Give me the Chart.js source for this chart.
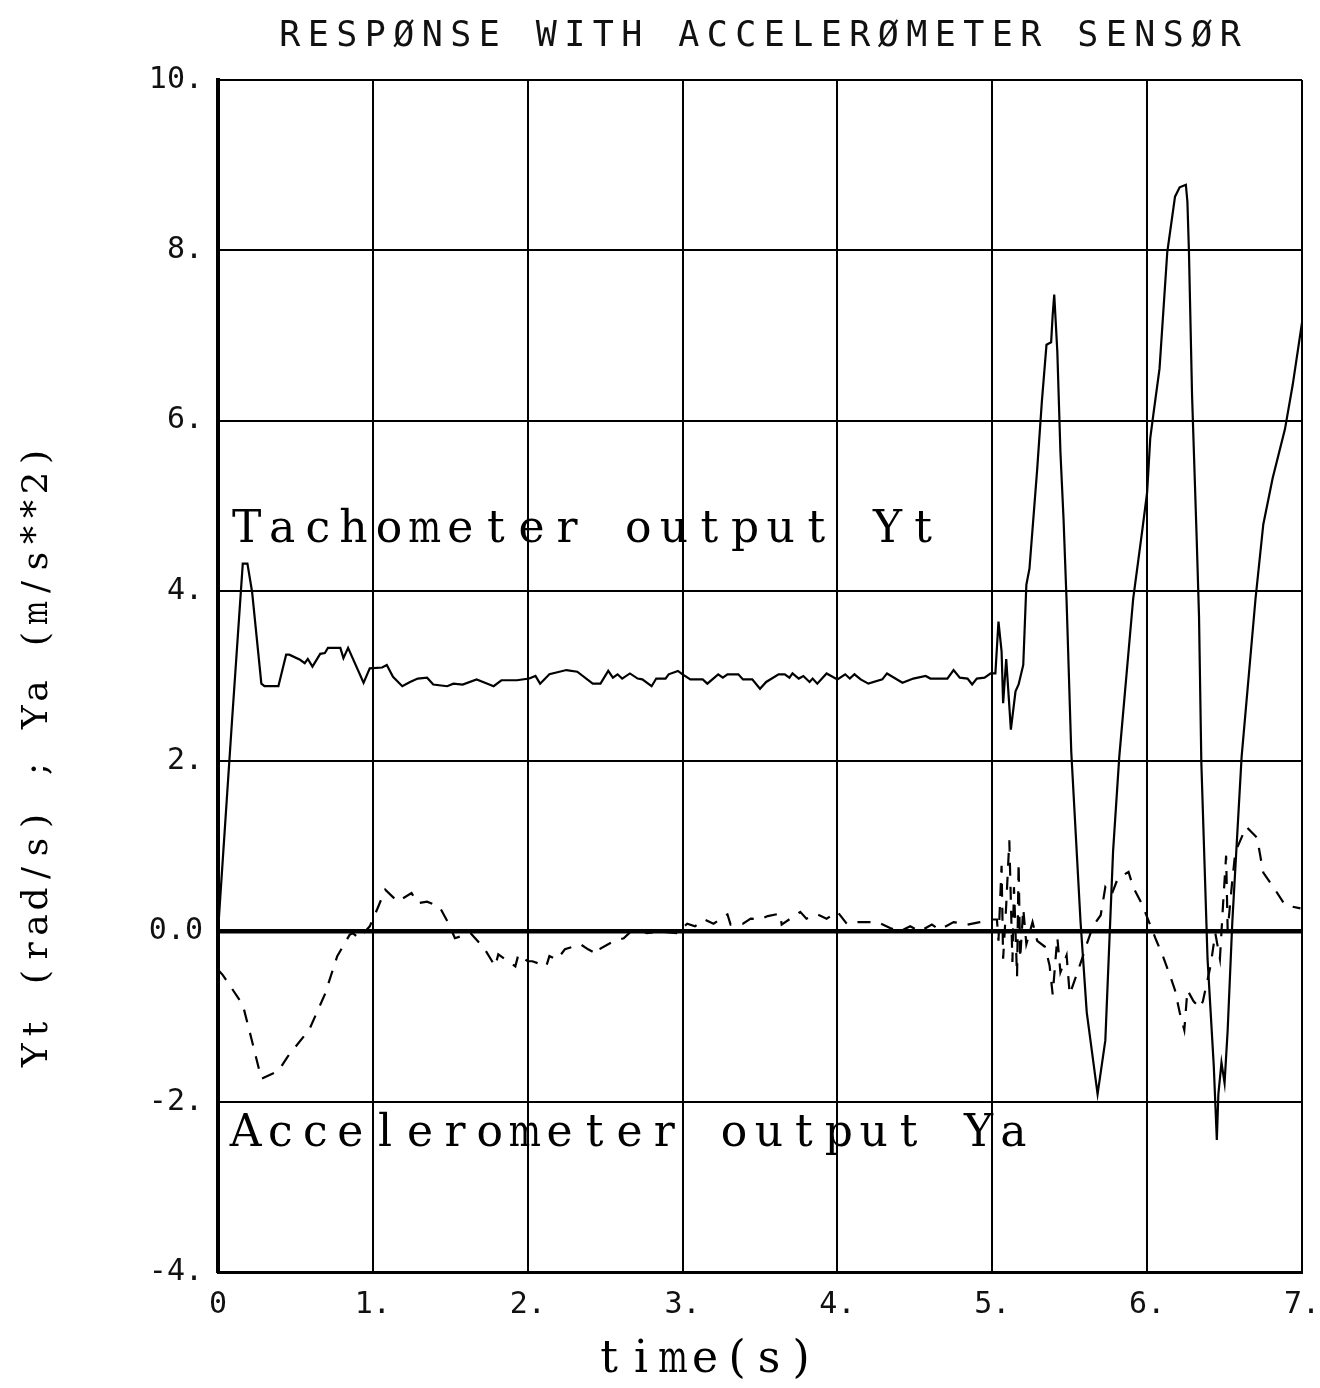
<!DOCTYPE html>
<html>
<head>
<meta charset="utf-8">
<title>Response with accelerometer sensor</title>
<script src="https://cdn.jsdelivr.net/npm/chart.js@4.4.0/dist/chart.umd.min.js"></script>
<style>
html,body{margin:0;padding:0;background:#fff;}
canvas{display:block;}
</style>
</head>
<body>
<canvas id="grafico" width="1320" height="1388"></canvas>
<script>
// tachometer output Yt (rad/s)
const tempoTaco = [
  0, 0.09, 0.16, 0.19, 0.22, 0.28, 0.30, 0.39, 0.44, 0.46,
  0.53, 0.56, 0.58, 0.61, 0.66, 0.69, 0.71, 0.79, 0.81, 0.84,
  0.94, 0.98, 1.06, 1.09, 1.13, 1.19, 1.24, 1.29, 1.35, 1.39,
  1.48, 1.52, 1.58, 1.67, 1.74, 1.78, 1.83, 1.93, 2.01, 2.05,
  2.08, 2.14, 2.25, 2.32, 2.42, 2.47, 2.52, 2.55, 2.58, 2.61,
  2.66, 2.71, 2.74, 2.80, 2.83, 2.89, 2.91, 2.97, 3.00, 3.05,
  3.13, 3.16, 3.23, 3.26, 3.29, 3.36, 3.39, 3.45, 3.50, 3.54,
  3.62, 3.66, 3.69, 3.71, 3.75, 3.78, 3.82, 3.84, 3.87, 3.93,
  4.00, 4.05, 4.08, 4.11, 4.15, 4.20, 4.29, 4.32, 4.42, 4.49,
  4.57, 4.60, 4.71, 4.75, 4.79, 4.84, 4.87, 4.90, 4.95, 4.99,
  5.02, 5.04, 5.06, 5.07, 5.09, 5.12, 5.15, 5.17, 5.20, 5.22,
  5.24, 5.29, 5.32, 5.35, 5.38, 5.39, 5.40, 5.42, 5.44, 5.46,
  5.48, 5.51, 5.57, 5.61, 5.68, 5.73, 5.78, 5.82, 5.91, 5.97,
  6.00, 6.02, 6.04, 6.08, 6.13, 6.18, 6.21, 6.25, 6.26, 6.27,
  6.29, 6.32, 6.335, 6.35, 6.39, 6.43, 6.45, 6.46, 6.48, 6.50,
  6.52, 6.55, 6.61, 6.70, 6.75, 6.81, 6.89, 6.94, 7.00
];
const taco = [
  0, 2.46, 4.32, 4.32, 3.99, 2.91, 2.88, 2.88, 3.25, 3.25,
  3.19, 3.15, 3.20, 3.11, 3.26, 3.27, 3.33, 3.33, 3.21, 3.33,
  2.92, 3.09, 3.10, 3.13, 2.99, 2.88, 2.93, 2.97, 2.98, 2.90,
  2.88, 2.91, 2.90, 2.96, 2.91, 2.88, 2.95, 2.95, 2.97, 3.00,
  2.91, 3.02, 3.07, 3.05, 2.91, 2.91, 3.06, 2.98, 3.02, 2.97,
  3.03, 2.97, 2.96, 2.88, 2.97, 2.97, 3.02, 3.06, 3.02, 2.96,
  2.96, 2.91, 3.02, 2.98, 3.02, 3.02, 2.96, 2.96, 2.85, 2.93,
  3.02, 3.02, 2.98, 3.03, 2.97, 3.00, 2.93, 2.97, 2.91, 3.03,
  2.96, 3.02, 2.97, 3.02, 2.96, 2.91, 2.96, 3.03, 2.92, 2.97,
  3.00, 2.97, 2.97, 3.07, 2.98, 2.97, 2.90, 2.97, 2.98, 3.03,
  3.03, 3.64, 3.29, 2.68, 3.20, 2.37, 2.82, 2.90, 3.13, 4.07,
  4.26, 5.43, 6.22, 6.89, 6.92, 7.24, 7.48, 6.81, 5.63, 4.85,
  3.87, 2.11, 0.11, -0.95, -1.91, -1.28, 0.94, 2.05, 3.91, 4.73,
  5.16, 5.79, 6.07, 6.61, 7.98, 8.63, 8.74, 8.77, 8.57, 7.98,
  6.30, 4.61, 3.70, 1.98, -0.32, -1.57, -2.45, -1.91, -1.54, -1.78,
  -1.16, 0.11, 2.05, 3.91, 4.78, 5.32, 5.90, 6.42, 7.15
];

// accelerometer output Ya (m/s**2)
const tempoAcel = [
  0, 0.03, 0.06, 0.16, 0.22, 0.28, 0.39, 0.45, 0.59, 0.69,
  0.77, 0.85, 0.87, 0.91, 0.98, 1.03, 1.08, 1.16, 1.25, 1.29,
  1.35, 1.43, 1.49, 1.53, 1.63, 1.72, 1.79, 1.81, 1.92, 1.94,
  2.00, 2.03, 2.12, 2.14, 2.19, 2.24, 2.34, 2.39, 2.45, 2.47,
  2.55, 2.62, 2.69, 2.77, 2.85, 2.96, 3.03, 3.08, 3.14, 3.20,
  3.29, 3.31, 3.39, 3.44, 3.50, 3.55, 3.63, 3.64, 3.76, 3.80,
  3.87, 3.93, 4.00, 4.06, 4.13, 4.26, 4.34, 4.40, 4.47, 4.53,
  4.61, 4.66, 4.75, 4.84, 4.92, 5.00, 5.03, 5.04, 5.06, 5.07,
  5.09, 5.11, 5.13, 5.14, 5.16, 5.17, 5.18, 5.20, 5.22, 5.26,
  5.29, 5.34, 5.37, 5.39, 5.42, 5.44, 5.48, 5.50, 5.55, 5.58,
  5.61, 5.65, 5.70, 5.73, 5.77, 5.81, 5.88, 5.91, 5.97, 6.01,
  6.06, 6.10, 6.15, 6.18, 6.21, 6.24, 6.26, 6.30, 6.34, 6.36,
  6.41, 6.44, 6.47, 6.49, 6.51, 6.52, 6.55, 6.57, 6.59, 6.64,
  6.71, 6.75, 6.83, 6.89, 6.99
];
const acel = [
  -0.45, -0.51, -0.59, -0.86, -1.29, -1.73, -1.64, -1.47, -1.15, -0.74,
  -0.29, -0.04, -0.02, -0.08, 0.06, 0.27, 0.49, 0.35, 0.45, 0.33,
  0.35, 0.29, 0.09, -0.08, -0.02, -0.20, -0.41, -0.27, -0.41, -0.27,
  -0.35, -0.35, -0.41, -0.29, -0.33, -0.21, -0.15, -0.21, -0.27, -0.20,
  -0.12, -0.08, 0.04, -0.02, 0.00, -0.02, 0.09, 0.06, 0.14, 0.09,
  0.20, 0.08, 0.09, 0.15, 0.14, 0.18, 0.21, 0.08, 0.23, 0.15,
  0.20, 0.15, 0.23, 0.09, 0.11, 0.11, 0.04, 0.00, 0.06, 0.00,
  0.08, 0.02, 0.11, 0.08, 0.11, 0.14, 0.14, -0.11, 0.77, -0.32,
  0.31, 1.07, -0.36, 0.52, -0.53, 0.81, -0.32, 0.27, -0.15, 0.11,
  -0.11, -0.18, -0.40, -0.74, -0.07, -0.48, -0.28, -0.74, -0.48, -0.32,
  -0.15, 0.06, 0.19, 0.52, 0.43, 0.62, 0.70, 0.52, 0.31, 0.12,
  -0.11, -0.28, -0.53, -0.69, -0.95, -1.16, -0.69, -0.82, -0.90, -0.82,
  -0.40, -0.02, -0.32, 0.31, 0.89, 0.01, 0.60, 0.94, 1.02, 1.23,
  1.10, 0.69, 0.48, 0.31, 0.27
];

const rotulosX = ['0','1.','2.','3.','4.','5.','6.','7.'];
const rotulosY = ['-4.','-2.','0.0','2.','4.','6.','8.','10.'];

const titulo = 'RESPØNSE WITH ACCELERØMETER SENSØR';
const tituloX = 'time(s)';
const tituloY = 'Yt (rad/s) ; Ya (m/s**2)';
const notaTaco = 'Tachometer output Yt';
const notaAcel = 'Accelerometer output Ya';

// fixed-pitch text, one glyph per cell (plotter style)
function textoEspacado(ctx, txt, x0, y, passo, fonte){
    ctx.font = fonte;
    ctx.textAlign = 'center';
    ctx.textBaseline = 'alphabetic';
    for(let i=0;i<txt.length;i++){
        const c = txt[i];
        if(c===' ') continue;
        const w = ctx.measureText(c).width;
        const sx = w > passo*0.92 ? passo*0.92/w : 1;
        ctx.save();
        ctx.translate(x0 + passo*(i+0.5), y);
        ctx.scale(sx,1);
        ctx.fillText(c,0,0);
        ctx.restore();
    }
}

const textos = {
    id:'textos',
    afterDraw(chart){
        const ctx = chart.ctx, a = chart.chartArea;
        const sx = chart.scales.x, sy = chart.scales.y;
        ctx.save();
        ctx.fillStyle = '#111';
        const meio = (a.left + a.right)/2;
        textoEspacado(ctx, titulo, meio - titulo.length*28.5/2, 46, 28.5, '35px "DejaVu Sans Mono"');
        ctx.fillStyle = '#000';
        textoEspacado(ctx, notaTaco, sx.getPixelForValue(0.07), sy.getPixelForValue(4.57), 35.6, '44px "DejaVu Serif"');
        textoEspacado(ctx, notaAcel, sx.getPixelForValue(0.065), sy.getPixelForValue(-2.52), 34.9, '44px "DejaVu Serif"');
        textoEspacado(ctx, tituloX, meio - 55 - tituloX.length*32/2, a.bottom + 100, 32, '44px "DejaVu Serif"');
        ctx.translate(a.left - 171, (a.top + a.bottom)/2 + 80);
        ctx.rotate(-Math.PI/2);
        textoEspacado(ctx, tituloY, -tituloY.length*26/2, 0, 26, '36px "DejaVu Serif"');
        ctx.restore();
    }
};

const grafico = new Chart(document.getElementById('grafico'), {
    type:'line',
    data:{
        datasets:[
            {label:'Yt', data:tempoTaco.map((t,i)=>({x:t, y:taco[i]})),
             borderColor:'#000', borderWidth:2.2, pointRadius:0, tension:0, fill:false},
            {label:'Ya', data:tempoAcel.map((t,i)=>({x:t, y:acel[i]})),
             borderColor:'#000', borderWidth:2.2, borderDash:[13,11], pointRadius:0, tension:0, fill:false}
        ]
    },
    options:{
        responsive:false,
        animation:false,
        devicePixelRatio:1,
        layout:{padding:{top:80, right:18, left:0, bottom:0}},
        plugins:{legend:{display:false}, tooltip:{enabled:false}, title:{display:false}},
        scales:{
            x:{
                type:'linear', min:0, max:7,
                ticks:{stepSize:1, padding:15, color:'#111', font:{family:'DejaVu Sans Mono', size:30},
                       callback:(v,i)=>rotulosX[i], maxRotation:0, autoSkip:false},
                grid:{color:'#000', lineWidth:2, drawTicks:false},
                border:{display:true, color:'#000', width:3},
                afterFit(s){ s.height = 116; s.paddingLeft = 0; s.paddingRight = 0; }
            },
            y:{
                type:'linear', min:-4, max:10,
                ticks:{stepSize:2, padding:15, color:'#111', font:{family:'DejaVu Sans Mono', size:30},
                       callback:(v,i)=>rotulosY[i], autoSkip:false},
                grid:{color:'#000', lineWidth:c => c.tick && c.tick.value===0 ? 4.5 : 2, drawTicks:false},
                border:{display:true, color:'#000', width:4},
                afterFit(s){ s.width = 218; s.paddingTop = 0; s.paddingBottom = 0; }
            }
        }
    },
    plugins:[textos]
});
</script>
</body>
</html>
